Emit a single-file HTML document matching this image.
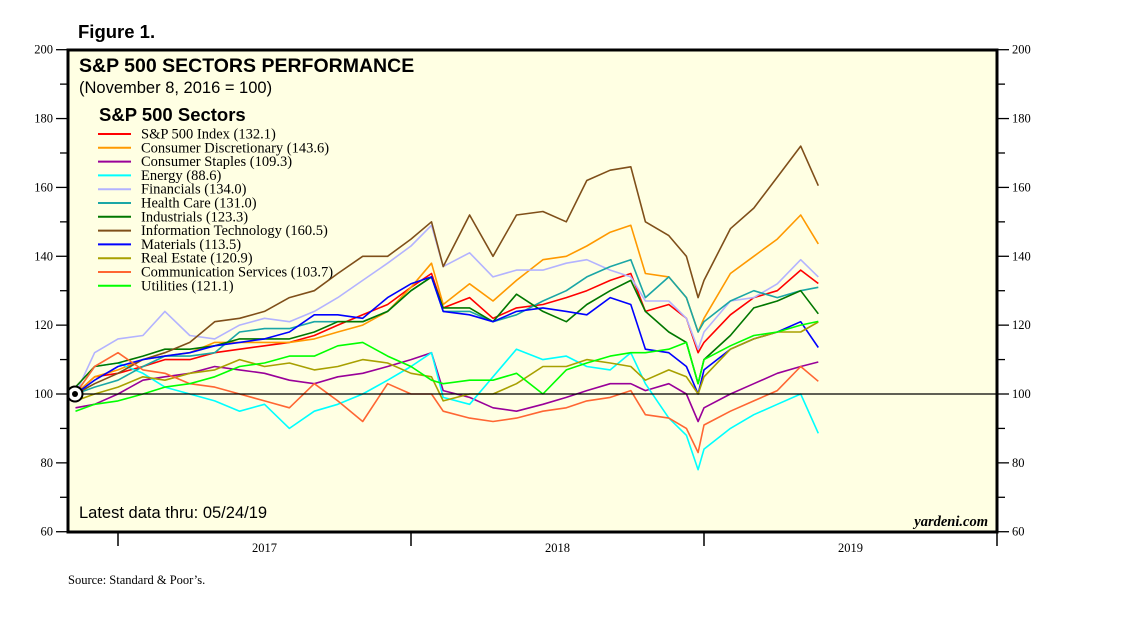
<!DOCTYPE html>
<html><head><meta charset="utf-8"><style>
body{margin:0;background:#fff;width:1138px;height:625px;overflow:hidden}
svg{display:block}
</style></head><body>
<svg id="chart" width="1138" height="625" font-family="Liberation Sans, sans-serif"></svg>
<script>
const dates=[2016.855,2016.92,2017.0,2017.085,2017.16,2017.245,2017.33,2017.415,2017.5,2017.585,2017.67,2017.75,2017.835,2017.92,2018.0,2018.07,2018.11,2018.2,2018.28,2018.36,2018.45,2018.53,2018.6,2018.68,2018.75,2018.8,2018.88,2018.94,2018.98,2019.0,2019.09,2019.17,2019.25,2019.33,2019.39];
const sp500=[100,105,106,108,110,110,112,113,114,115,117,120,123,126,131,135,125,128,122,125,126,128,130,133,135,124,126,122,112,115,123,128,130,136,132.1];
const consDisc=[100,105,107,110,111,112,115,115,115,115,116,118,120,124,131,138,126,132,127,133,139,140,143,147,149,135,134,128,118,122,135,140,145,152,143.6];
const consStaples=[96,97,100,104,105,106,108,107,106,104,103,105,106,108,110,112,101,99,96,95,97,99,101,103,103,101,103,100,92,96,100,103,106,108,109.3];
const energy=[100,108,109,106,102,100,98,95,97,90,95,97,100,104,108,112,99,97,105,113,110,111,108,107,112,103,93,88,78,84,90,94,97,100,88.6];
const financials=[100,112,116,117,124,117,116,120,122,121,124,128,133,138,143,149,137,141,134,136,136,138,139,136,134,127,127,122,113,118,127,128,132,139,134.0];
const healthCare=[100,102,104,108,111,111,112,118,119,119,121,121,121,124,130,134,124,124,121,123,127,130,134,137,139,128,134,128,118,121,127,130,128,130,131.0];
const industrials=[102,108,109,111,113,113,114,116,116,116,118,121,121,124,130,134,125,125,121,129,124,121,126,130,133,124,118,115,103,110,117,125,127,130,123.3];
const infoTech=[100,103,106,110,112,115,121,122,124,128,130,135,140,140,145,150,137,152,140,152,153,150,162,165,166,150,146,140,128,133,148,154,163,172,160.5];
const materials=[100,104,108,110,111,112,114,115,116,118,123,123,122,128,132,134,124,123,121,124,125,124,123,128,126,113,112,108,100,107,113,116,118,121,113.5];
const realEstate=[98,100,102,105,104,106,107,110,108,109,107,108,110,109,106,105,98,100,100,103,108,108,110,109,108,104,107,105,100,105,113,116,118,118,120.9];
const commServ=[100,108,112,107,106,103,102,100,98,96,103,98,92,103,100,100,95,93,92,93,95,96,98,99,101,94,93,90,83,91,95,98,101,108,103.7];
const utilities=[95,97,98,100,102,103,105,108,109,111,111,114,115,111,108,104,103,104,104,106,100,107,109,111,112,112,113,115,103,110,114,117,118,120,121.1];
const seriesNames=["S&P 500 Index (132.1)","Consumer Discretionary (143.6)","Consumer Staples (109.3)","Energy (88.6)","Financials (134.0)","Health Care (131.0)","Industrials (123.3)","Information Technology (160.5)","Materials (113.5)","Real Estate (120.9)","Communication Services (103.7)","Utilities (121.1)"];
const yTicks=[60,80,100,120,140,160,180,200];
const years=[2017,2018,2019];

const NS="http://www.w3.org/2000/svg";
const svg=document.getElementById('chart');
const colors=["#ff0000","#ff9900","#990099","#00ffff","#b3b3ff","#1aa6a6","#007700","#7f4f1a","#0000ff","#a8a000","#ff6633","#00ff00"];
const slugs=["sp500","consumer-discretionary","consumer-staples","energy","financials","health-care","industrials","information-technology","materials","real-estate","communication-services","utilities"];
const data=[sp500,consDisc,consStaples,energy,financials,healthCare,industrials,infoTech,materials,realEstate,commServ,utilities];
const X0=68,X1=997,Y0=50,Y1=532;
const xs=d=>118+(d-2017)*293;
const ys=v=>394-(v-100)*3.443;
function el(t,a,txt){const e=document.createElementNS(NS,t);for(const k in a)e.setAttribute(k,a[k]);if(txt!==undefined)e.textContent=txt;svg.appendChild(e);return e;}

let t=el('text',{x:78,y:38,'font-size':18.5,'font-weight':'bold'},'Figure 1.');


let bg=el('rect',{x:X0,y:Y0,width:X1-X0,height:Y1-Y0,fill:'#ffffe3'});



for(let v=60;v<=200;v+=10){
  const y=ys(v);const major=v%20===0;
  let a=el('line',{x1:major?56:60,y1:y,x2:X0,y2:y,stroke:'#000','stroke-width':1.3});
  
  
  let b=el('line',{x1:X1,y1:y,x2:major?1009:1005,y2:y,stroke:'#000','stroke-width':1.3});
  
  
}
yTicks.forEach(v=>{
  let a=el('text',{x:53,y:ys(v)+4,'font-size':12.5,'text-anchor':'end','font-family':'Liberation Serif, serif'},v);
  
  
  let b=el('text',{x:1012,y:ys(v)+4,'font-size':12.5,'font-family':'Liberation Serif, serif'},v);
  
  
});
[2017,2018,2019,2020].forEach(yr=>{
  let a=el('line',{x1:xs(yr),y1:Y1,x2:xs(yr),y2:Y1+14,stroke:'#000','stroke-width':1.5});
  
  
});
years.forEach(yr=>{
  let a=el('text',{x:xs(yr+0.5),y:552,'font-size':12.5,'text-anchor':'middle','font-family':'Liberation Serif, serif'},yr);
  
  
});

data.forEach((arr,i)=>{
  const pts=arr.map((v,j)=>xs(dates[j]).toFixed(1)+','+ys(v).toFixed(1)).join(' ');
  let p=el('polyline',{points:pts,fill:'none',stroke:colors[i],'stroke-width':1.6,'stroke-linejoin':'round'});
  
  
});
let base=el('line',{x1:X0,y1:ys(100),x2:X1,y2:ys(100),stroke:'#000','stroke-width':1.2});


let c1=el('circle',{cx:75,cy:ys(100),r:7.5,fill:'#fff',stroke:'#000','stroke-width':2});


el('circle',{cx:75,cy:ys(100),r:3,fill:'#000'});

let fr=el('rect',{x:X0,y:Y0,width:X1-X0,height:Y1-Y0,fill:'none',stroke:'#000','stroke-width':3});



t=el('text',{x:79,y:72,'font-size':19.5,'font-weight':'bold'},'S&P 500 SECTORS PERFORMANCE');


t=el('text',{x:79,y:93,'font-size':16.5},'(November 8, 2016 = 100)');


t=el('text',{x:99,y:121,'font-size':18.5,'font-weight':'bold'},'S&P 500 Sectors');


seriesNames.forEach((n,i)=>{
  const y=134+i*13.8;
  let l=el('line',{x1:98,y1:y,x2:131,y2:y,stroke:colors[i],'stroke-width':2});
  
  
  let tx=el('text',{x:141,y:y+4.5,'font-size':14.5,'font-family':'Liberation Serif, serif'},n);
  
  
});
t=el('text',{x:79,y:518,'font-size':16.5},'Latest data thru: 05/24/19');


t=el('text',{x:988,y:526,'font-size':14.5,'font-weight':'bold','font-style':'italic','text-anchor':'end','font-family':'Liberation Serif, serif'},'yardeni.com');


t=el('text',{x:68,y:584,'font-size':12.5,'font-family':'Liberation Serif, serif'},'Source: Standard & Poor’s.');


</script>
</body></html>
